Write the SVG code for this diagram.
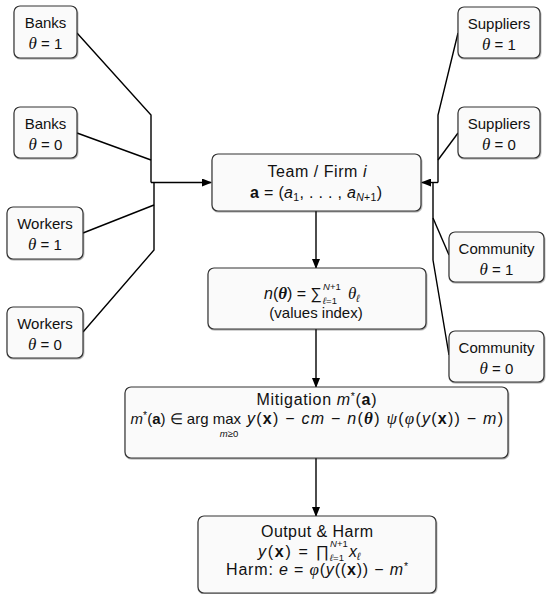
<svg xmlns="http://www.w3.org/2000/svg" width="546" height="594" viewBox="0 0 546 594">
<defs>
<marker id="arr" markerWidth="10" markerHeight="8" refX="9" refY="4" orient="auto" markerUnits="userSpaceOnUse">
<path d="M0,0 L10,4 L0,8 z" fill="#000"/>
</marker>
<filter id="sh" x="-10%" y="-10%" width="120%" height="130%">
<feDropShadow dx="0.6" dy="1" stdDeviation="0.6" flood-color="#000" flood-opacity="0.35"/>
</filter>
</defs>
<style>
.box{fill:#fafafa;stroke:#333;stroke-width:1.2;filter:url(#sh)}
text{font-family:"Liberation Sans",Arial,sans-serif;font-size:15px;fill:#111}
.m{font-size:16px}
.c{text-anchor:middle}
.e{text-anchor:end}
.i{font-style:italic}
.g{font-family:"Liberation Serif","Times New Roman",serif;font-style:italic;font-size:17px}
.b{font-weight:bold}
.s{font-size:10.5px}
.t{font-size:9.5px}
.ln{fill:none;stroke:#000;stroke-width:1.4}
</style>
<rect width="546" height="594" fill="#fff"/>
<g id="connectors">
<polyline class="ln" points="77,33 151,115 151,182.5"/>
<line class="ln" x1="77" y1="133" x2="151" y2="160"/>
<line class="ln" x1="151" y1="182.5" x2="211" y2="182.5" marker-end="url(#arr)"/>
<line class="ln" x1="83" y1="233" x2="154" y2="205"/>
<polyline class="ln" points="83,332 154,250 154,182.5"/>
<polyline class="ln" points="458,33 438,115 438,182.5"/>
<line class="ln" x1="458" y1="133" x2="438" y2="160"/>
<line class="ln" x1="438" y1="182.5" x2="422" y2="182.5" marker-end="url(#arr)"/>
<line class="ln" x1="449" y1="255" x2="433" y2="218"/>
<polyline class="ln" points="449,355 433,260 433,182.5"/>
<line class="ln" x1="316" y1="211" x2="316" y2="268" marker-end="url(#arr)"/>
<line class="ln" x1="316" y1="329" x2="316" y2="387" marker-end="url(#arr)"/>
<line class="ln" x1="316" y1="458" x2="316" y2="516" marker-end="url(#arr)"/>
</g>
<g id="banks1">
<rect class="box" x="14" y="6" width="63" height="52" rx="6"/>
<text class="c" x="45.5" y="28">Banks</text>
<text class="c" x="45.5" y="49"><tspan class="g">θ</tspan> = 1</text>
</g>
<g id="banks0">
<rect class="box" x="14" y="107" width="63" height="51" rx="6"/>
<text class="c" x="45.5" y="129">Banks</text>
<text class="c" x="45.5" y="150"><tspan class="g">θ</tspan> = 0</text>
</g>
<g id="workers1">
<rect class="box" x="7" y="207" width="76" height="52" rx="6"/>
<text class="c" x="45" y="229">Workers</text>
<text class="c" x="45" y="250"><tspan class="g">θ</tspan> = 1</text>
</g>
<g id="workers0">
<rect class="box" x="7" y="307" width="76" height="51" rx="6"/>
<text class="c" x="45" y="329">Workers</text>
<text class="c" x="45" y="350"><tspan class="g">θ</tspan> = 0</text>
</g>
<g id="suppliers1">
<rect class="box" x="458" y="7" width="82" height="51" rx="6"/>
<text class="c" x="499" y="29">Suppliers</text>
<text class="c" x="499" y="50"><tspan class="g">θ</tspan> = 1</text>
</g>
<g id="suppliers0">
<rect class="box" x="458" y="107" width="82" height="51" rx="6"/>
<text class="c" x="499" y="129">Suppliers</text>
<text class="c" x="499" y="150"><tspan class="g">θ</tspan> = 0</text>
</g>
<g id="community1">
<rect class="box" x="449" y="232" width="95" height="50" rx="6"/>
<text class="c" x="496.5" y="254">Community</text>
<text class="c" x="496.5" y="275"><tspan class="g">θ</tspan> = 1</text>
</g>
<g id="community0">
<rect class="box" x="449" y="331" width="95" height="51" rx="6"/>
<text class="c" x="496.5" y="353">Community</text>
<text class="c" x="496.5" y="374"><tspan class="g">θ</tspan> = 0</text>
</g>
<g id="team">
<rect class="box" x="212" y="154" width="209" height="57" rx="6"/>
<text class="c m" x="317" y="177" textLength="99">Team / Firm <tspan class="i">i</tspan></text>
<text class="c m" x="316" y="198" textLength="132"><tspan class="b">a</tspan> = (<tspan class="i">a</tspan><tspan class="s" dy="3">1</tspan><tspan dy="-3">, . . . , </tspan><tspan class="i">a</tspan><tspan class="s" dy="3"><tspan class="i">N</tspan>+1</tspan><tspan dy="-3">)</tspan></text>
</g>
<g id="values">
<rect class="box" x="208" y="268" width="218" height="61" rx="6"/>
<text class="e m" x="322" y="299"><tspan class="i">n</tspan>(<tspan class="g b">θ</tspan>) = ∑</text>
<text class="t" x="323" y="290"><tspan class="i">N</tspan>+1</text>
<text class="t" x="323" y="304"><tspan class="i">ℓ</tspan>=1</text>
<text x="348" y="299"><tspan class="g">θ</tspan><tspan class="s i" dy="3">ℓ</tspan></text>
<text class="c" x="316" y="318">(values index)</text>
</g>
<g id="mitigation">
<rect class="box" x="125" y="387" width="383" height="71" rx="6"/>
<text class="c m" x="316.5" y="405" textLength="120">Mitigation <tspan class="i">m</tspan><tspan class="s" dy="-5">*</tspan><tspan dy="5">(</tspan><tspan class="b">a</tspan>)</text>
<text class="e" x="241" y="424"><tspan class="i">m</tspan><tspan class="s" dy="-5">*</tspan><tspan dy="5">(</tspan><tspan class="b">a</tspan>) ∈ arg max</text>
<text class="t c" x="229" y="437"><tspan class="i">m</tspan>≥0</text>
<text class="m" x="247" y="424" textLength="256"><tspan class="i">y</tspan>(<tspan class="b">x</tspan>) − <tspan class="i">cm</tspan> − <tspan class="i">n</tspan>(<tspan class="g b">θ</tspan>) <tspan class="g">ψ</tspan>(<tspan class="g">φ</tspan>(<tspan class="i">y</tspan>(<tspan class="b">x</tspan>)) − <tspan class="i">m</tspan>)</text>
</g>
<g id="output">
<rect class="box" x="198" y="516" width="238" height="77" rx="6"/>
<text class="c m" x="317" y="537" textLength="112">Output &amp; Harm</text>
<text class="m" x="258" y="557" textLength="71"><tspan class="i">y</tspan>(<tspan class="b">x</tspan>) = ∏</text>
<text class="t" x="330" y="547"><tspan class="i">N</tspan>+1</text>
<text class="t" x="330" y="561"><tspan class="i">ℓ</tspan>=1</text>
<text class="m" x="349" y="557"><tspan class="i">x</tspan><tspan class="s i" dy="3">ℓ</tspan></text>
<text class="m" x="226" y="575" textLength="182">Harm: <tspan class="i">e</tspan> = <tspan class="g">φ</tspan>(<tspan class="i">y</tspan>((<tspan class="b">x</tspan>)) − <tspan class="i">m</tspan><tspan class="s" dy="-5">*</tspan></text>
</g>
</svg>
